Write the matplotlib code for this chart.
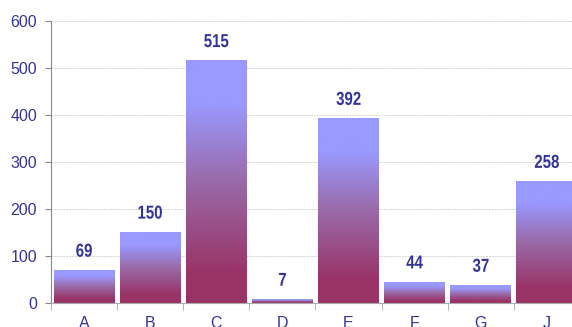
import numpy as np
import matplotlib.pyplot as plt
from matplotlib.colors import LinearSegmentedColormap
from matplotlib.font_manager import FontProperties
from matplotlib.patches import PathPatch
from matplotlib.textpath import TextPath
from matplotlib.transforms import Affine2D, ScaledTranslation

categories = ["A", "B", "C", "D", "E", "F", "G", "J"]
values = [69, 150, 515, 7, 392, 44, 37, 258]

text_color = "#333399"
grad = LinearSegmentedColormap.from_list(
    "bar", [(0.0, "#993366"), (0.12, "#993366"), (0.5, "#9a6aa8"),
            (0.82, "#9999ff"), (1.0, "#9999ff")])

fig = plt.figure(figsize=(5.72, 3.27), dpi=100)
ax = fig.add_axes([51 / 572, 24 / 327, 1 - 51 / 572, 282 / 327])

x = np.arange(len(categories))
bars = ax.bar(x, values, width=0.92, color="none", zorder=2)

# fill each bar with a vertical gradient, light at the top
g = np.linspace(0, 1, 256).reshape(-1, 1)
for b in bars:
    x0, y0 = b.get_x(), b.get_y()
    w, h = b.get_width(), b.get_height()
    ax.imshow(g, cmap=grad, origin="lower", aspect="auto",
              extent=[x0, x0 + w, y0, y0 + h], zorder=2)

# value labels: narrow bold digits (bold sans squeezed horizontally)
label_font = FontProperties(family="Liberation Sans", weight="bold")
squeeze = 0.8
for xi, v in zip(x, values):
    tp = TextPath((0, 0), str(v), size=13.5, prop=label_font)
    ext = tp.get_extents()
    cx = (ext.x0 + ext.x1) / 2
    tr = (Affine2D().translate(-cx, 10).scale(squeeze, 1).scale(1 / 72)
          + fig.dpi_scale_trans + ScaledTranslation(xi, v, ax.transData))
    ax.add_patch(PathPatch(tp, transform=tr, facecolor=text_color,
                           edgecolor="none", zorder=3))

ax.set_yticks(range(0, 601, 100))
ax.set_xticks(x)
ax.set_xticklabels(categories)
ax.set_xticks(np.arange(-0.5, 8, 1), minor=True)
ax.set_xlim(-0.5, 7.38)
ax.set_ylim(0, 600)

ax.grid(axis="y", color="#d4d4d4", linestyle=(0, (2, 1)), linewidth=0.7, zorder=0)
for s in ["top", "right"]:
    ax.spines[s].set_visible(False)
ax.spines["left"].set_color("#888888")
ax.spines["bottom"].set_color("#aaaaaa")

ax.tick_params(axis="y", colors="#888888", labelcolor=text_color, labelsize=11.5,
               length=4, pad=6)
ax.tick_params(axis="x", which="major", length=0, labelcolor=text_color,
               labelsize=11.5, pad=9)
ax.tick_params(axis="x", which="minor", length=5, color="#aaaaaa")
for lab in ax.get_xticklabels() + ax.get_yticklabels():
    lab.set_family(["Liberation Sans", "DejaVu Sans"])

fig.savefig("out.png", dpi=100)
